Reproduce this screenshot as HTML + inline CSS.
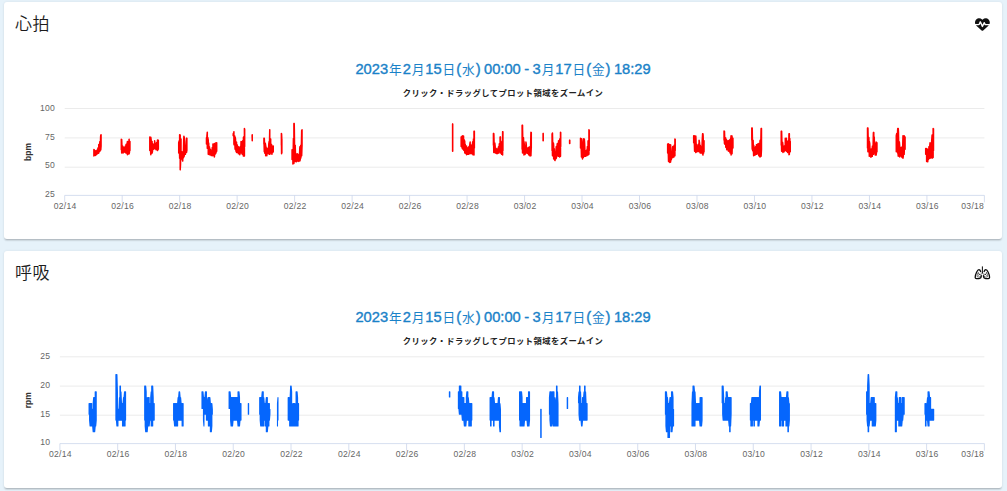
<!DOCTYPE html>
<html lang="ja"><head><meta charset="utf-8"><title>心拍・呼吸</title>
<style>
html,body{margin:0;padding:0}
body{width:1007px;height:491px;overflow:hidden;background:#e6f2fa;position:relative;font-family:"Liberation Sans","Noto Sans CJK JP",sans-serif}
.card{position:absolute;background:#fff;border-radius:3px;box-shadow:0 1.5px 1px -1.2px rgba(0,0,0,.12),0 1.2px 1.3px 0 rgba(0,0,0,.08),0 0.8px 3px 0 rgba(0,0,0,.07)}
.ct{position:absolute;left:11.3px;top:10.7px;font-size:17px;line-height:24px;color:#1c1c1c;font-weight:350;white-space:nowrap;letter-spacing:0.6px}
.ic{position:absolute;left:969.8px;top:12.8px}
.ht i{font-style:normal;font-size:12.7px;-webkit-text-stroke:0;display:inline-block;width:14.6px;text-align:center;letter-spacing:0;position:relative;top:-0.3px}
.ht{position:absolute;left:0;right:0;top:55.6px;text-align:center;font-size:14.7px;letter-spacing:-0.03px;word-spacing:-0.55px;line-height:22px;color:#1a82c8;white-space:nowrap;-webkit-text-stroke:0.38px #1a82c8}
.hs{position:absolute;left:0;right:0;top:83.9px;text-align:center;font-size:8.3px;letter-spacing:0.45px;line-height:14px;font-weight:bold;color:#222;white-space:nowrap}
svg.pl{position:absolute;left:0;top:0}
.al{font-size:8.6px;fill:#666;letter-spacing:0.25px}
.yt{font-size:8.5px;font-weight:bold;fill:#333}
</style></head><body>
<div class="card" style="left:3.7px;top:2.3px;width:998.7px;height:236.7px">
<div class="ct">心拍</div>
<svg class="ic" style="left:971.4px;top:14.9px" viewBox="0 0 512 512" width="14.8" height="14.8"><path d="M228.3 469.1L47.6 300.4c-4.2-3.9-8.2-8.1-11.900-12.400h87c22.600 0 43-13.600 51.700-34.500l10.500-25.200 49.300 109.500c3.800 8.500 12.100 14 21.400 14.100s17.800-5 22-13.300L320 253.700l1.700 3.400c9.500 19 28.900 31 50.100 31H476.300c-3.700 4.300-7.700 8.500-11.900 12.400L283.700 469.100c-7.500 7-17.400 10.900-27.700 10.900s-20.200-3.900-27.700-10.900zM503.700 240h-132c-3 0-5.800-1.700-7.200-4.400l-23.200-46.300c-4.100-8.100-12.400-13.300-21.500-13.300s-17.400 5.100-21.500 13.300l-41.400 82.800L205.900 158.200c-3.900-8.700-12.700-14.300-22.200-14.100s-18.100 5.900-21.800 14.800l-31.800 76.300c-1.200 3-4.200 4.900-7.400 4.900H16c-2.600 0-5 .4-7.300 1.100C3 225.200 0 208.200 0 190.900v-5.800c0-69.900 50.500-129.500 119.400-141 45.600-7.600 92 7.300 124.600 39.900l12 12 12-12c32.600-32.600 79-47.500 124.600-39.900C461.500 55.600 512 115.200 512 185.100v5.800c0 16.900-2.800 33.500-8.300 49.100z" fill="#111"/></svg>
<div class="ht" style="margin-top:0px">2023<i>年</i>2<i>月</i>15<i>日</i>(<i>水</i>) 00:00 - 3<i>月</i>17<i>日</i>(<i>金</i>) 18:29</div>
<div class="hs" style="margin-top:0px">クリック・ドラッグしてプロット領域をズームイン</div>
</div>
<div class="card" style="left:3.7px;top:251.2px;width:998.7px;height:236.9px">
<div class="ct">呼吸</div>

<div class="ht" style="margin-top:-0.7px">2023<i>年</i>2<i>月</i>15<i>日</i>(<i>水</i>) 00:00 - 3<i>月</i>17<i>日</i>(<i>金</i>) 18:29</div>
<div class="hs" style="margin-top:-0.7px">クリック・ドラッグしてプロット領域をズームイン</div>
</div>
<svg class="pl" width="1007" height="491" viewBox="0 0 1007 491" font-family="Liberation Sans, sans-serif">
<line x1="64.7" x2="984.4" y1="108.5" y2="108.5" stroke="#e6e6e6" stroke-width="0.8"/>
<line x1="64.7" x2="984.4" y1="137.9" y2="137.9" stroke="#e6e6e6" stroke-width="0.8"/>
<line x1="64.7" x2="984.4" y1="167.2" y2="167.2" stroke="#e6e6e6" stroke-width="0.8"/>
<path d="M64.7,195.4 H984.4 M64.7,195.4 v7.0 M122.18,195.4 v7.0 M179.66,195.4 v7.0 M237.14,195.4 v7.0 M294.62,195.4 v7.0 M352.11,195.4 v7.0 M409.59,195.4 v7.0 M467.07,195.4 v7.0 M524.55,195.4 v7.0 M582.03,195.4 v7.0 M639.51,195.4 v7.0 M696.99,195.4 v7.0 M754.48,195.4 v7.0 M811.96,195.4 v7.0 M869.44,195.4 v7.0 M926.92,195.4 v7.0 M984.4,195.4 v7.0" stroke="#ccd6eb" stroke-width="0.8" fill="none"/>
<text class="al" x="55" y="110.8" text-anchor="end">100</text>
<text class="al" x="55" y="140" text-anchor="end">75</text>
<text class="al" x="55" y="168.2" text-anchor="end">50</text>
<text class="al" x="55" y="196.9" text-anchor="end">25</text>
<text class="al" x="65.2" y="208.8" text-anchor="middle">02/14</text>
<text class="al" x="122.68" y="208.8" text-anchor="middle">02/16</text>
<text class="al" x="180.16" y="208.8" text-anchor="middle">02/18</text>
<text class="al" x="237.64" y="208.8" text-anchor="middle">02/20</text>
<text class="al" x="295.12" y="208.8" text-anchor="middle">02/22</text>
<text class="al" x="352.61" y="208.8" text-anchor="middle">02/24</text>
<text class="al" x="410.09" y="208.8" text-anchor="middle">02/26</text>
<text class="al" x="467.57" y="208.8" text-anchor="middle">02/28</text>
<text class="al" x="525.05" y="208.8" text-anchor="middle">03/02</text>
<text class="al" x="582.53" y="208.8" text-anchor="middle">03/04</text>
<text class="al" x="640.01" y="208.8" text-anchor="middle">03/06</text>
<text class="al" x="697.49" y="208.8" text-anchor="middle">03/08</text>
<text class="al" x="754.98" y="208.8" text-anchor="middle">03/10</text>
<text class="al" x="812.46" y="208.8" text-anchor="middle">03/12</text>
<text class="al" x="869.94" y="208.8" text-anchor="middle">03/14</text>
<text class="al" x="927.42" y="208.8" text-anchor="middle">03/16</text>
<text class="al" x="984.1" y="208.8" text-anchor="end">03/18</text>
<text class="yt" transform="translate(30.5,151.95) rotate(-90)" text-anchor="middle">bpm</text>
<g fill="none" stroke="#ff0000" stroke-width="1.5" stroke-linejoin="round" stroke-linecap="round">
<path d="M93.89,155.71 L93.89,155.92 L93.89,149.47 L94.34,150.06 L94.79,155.3 L95.24,150.86 L95.59,151.15 L95.59,155.4 L95.68,155.08 L96.13,150.98 L96.58,154.4 L97.03,150.38 L97.29,149.86 L97.29,153.72 L97.48,153.63 L97.93,148.03 L98.38,153.2 L98.76,153.08 L98.76,144.7 L98.82,144.65 L99.27,151.83 L99.72,143.22 L99.9,141.47 L99.9,151.14 L100.17,150.6 L100.62,136.62 L100.77,135.01 L100.77,149.85 L101.07,145.88 L101.07,146.62 L101.07,134.76"/>
<path d="M121.29,148.84 L121.29,149.85 L121.29,139.15 L121.7,153.08 L121.7,139.53 L121.75,141.02 L122.2,152.65 L122.66,146.06 L123,146.63 L123,153.08 L123.11,152.95 L123.57,147.66 L124.02,152.05 L124.48,147.37 L124.5,147.28 L124.5,151.79 L124.93,152.09 L125.39,146.09 L125.84,152.29 L126.01,153.08 L126.01,144.7 L126.3,144.29 L126.75,153.28 L127.21,143.18 L127.4,141.47 L127.4,154.63 L127.67,153.99 L128.12,141.7 L128.58,153.93 L129.03,139.42 L129.13,139.15 L129.13,153.72 L129.49,152.06 L129.94,142.45 L129.94,141.47 L129.94,150.5"/>
<path d="M149.79,149.92 L149.79,150.5 L149.79,136.95 L150.24,137.88 L150.69,153.09 L150.83,154.63 L150.83,137.34 L151.14,139.5 L151.59,153.29 L152.04,142.78 L152.1,141.47 L152.1,153.08 L152.49,151.33 L152.94,144.08 L153.39,149.22 L153.49,149.21 L153.49,145.34 L153.84,144.39 L154.29,148.18 L154.64,148.56 L154.64,140.82 L154.74,141.9 L155.19,148.86 L155.64,143.75 L156.03,143.41 L156.03,149.85 L156.09,149.8 L156.54,142.75 L156.99,149.58 L157.44,140.38 L157.53,139.92 L157.53,150.5 L157.89,149.44 L158.34,140.23 L158.34,140.18 L158.34,149.21"/>
<path d="M178.71,152.39 L178.71,153.08 L178.71,142.76 L179.16,140.87 L179.62,156.84 L179.63,158.24 L179.63,134.76 L180.07,139.47 L180.2,135.01 L180.2,169.86 L180.52,164.34 L180.98,140.96 L181.01,138.89 L181.01,158.24 L181.43,157.72 L181.89,151.91 L181.93,151.8 L181.93,158.89 L182.34,159.66 L182.73,161.08 L182.73,153.09 L182.79,153.37 L183.25,157.94 L183.7,140.33 L183.88,136.31 L183.88,156.95 L184.15,155.14 L184.23,156.31 L184.23,136.95 L184.61,141.54 L185.06,154.33 L185.38,154.37 L185.38,150.51 L185.52,149.56 L185.97,152.46 L186.42,141.06 L186.52,138.24 L186.52,152.43 L186.88,150.15 L186.88,150.5 L186.88,138.24"/>
<path d="M206.47,143.82 L206.47,144.04 L206.47,138.24 L206.92,136.16 L207.3,132.17 L207.3,147.92 L207.36,148.34 L207.81,137.62 L208.24,140.18 L208.24,154.37 L208.25,154.14 L208.7,142.92 L209.14,154.51 L209.41,154.63 L209.41,146.63 L209.59,148.02 L210.03,154.81 L210.48,149.58 L210.92,155.1 L211.18,155.4 L211.18,151.15 L211.37,151.09 L211.81,155.44 L212.26,147.44 L212.7,155.04 L212.94,155.66 L212.94,144.05 L213.15,145.64 L213.59,155.23 L214.04,145.36 L214.35,143.41 L214.35,156.95 L214.48,156.26 L214.93,143.98 L215.37,153.97 L215.81,144.27 L215.88,142.76 L215.88,153.08 L216.26,151.29 L216.7,142.96 L216.7,142.76 L216.7,151.14"/>
<path d="M233.2,135.62 L233.2,135.65 L233.2,133.72 L233.65,132.79 L233.91,131.79 L233.91,144.04 L234.11,144.65 L234.57,135.63 L235.03,148.2 L235.1,149.21 L235.1,136.95 L235.49,138.87 L235.95,151.13 L236.41,142.41 L236.52,142.11 L236.52,152.43 L236.87,152.33 L237.33,144.96 L237.78,152.58 L238.24,147.28 L238.3,146.63 L238.3,153.72 L238.7,153.6 L239.16,148.03 L239.62,154.04 L239.85,154.63 L239.85,147.92 L240.08,146.73 L240.54,152.87 L241,143.1 L241.03,141.47 L241.03,153.08 L241.46,152.48 L241.91,143.07 L242.22,141.47 L242.22,154.37 L242.37,154.03 L242.83,140.48 L243.29,155.58 L243.41,155.92 L243.41,137.6 L243.75,136.68 L244.21,155.76 L244.41,155.92 L244.41,128.56 L244.67,129.39 L244.67,129.21 L244.67,146.62"/>
<path d="M252.14,137.53 L252.14,137.59 L252.14,135.01 L252.24,140.81 L252.24,134.76"/>
<path d="M263.92,143.95 L263.92,144.04 L263.92,138.24 L264.28,151.79 L264.28,138.24 L264.36,139.4 L264.8,153.19 L265.25,143.2 L265.67,145.34 L265.67,155.66 L265.69,155.51 L266.14,147.04 L266.58,155.4 L266.84,155.66 L266.84,149.22 L267.03,149.03 L267.47,153.75 L267.92,148.54 L268,147.92 L268,153.08 L268.36,153.36 L268.8,143.9 L269.17,141.47 L269.17,154.37 L269.25,153.87 L269.69,132.35 L269.75,129.85 L269.75,154.37 L270.14,153.59 L270.58,139.99 L270.68,138.89 L270.68,153.08 L271.03,152.22 L271.47,144.45 L271.85,145.99 L271.85,154.37 L271.92,153.85 L272.36,146.09 L272.8,152.54 L273.25,146.31 L273.25,145.99 L273.25,151.79"/>
<path d="M281.39,145.02 L281.39,145.33 L281.39,133.47 L281.58,153.72 L281.58,133.72 L281.86,140.77 L281.86,138.89 L281.86,153.08"/>
<path d="M292.06,159.38 L292.06,159.53 L292.06,149.86 L292.52,150.26 L292.89,150.51 L292.89,164.05 L292.97,162.5 L293.42,138.48 L293.88,162.85 L293.9,163.41 L293.9,123.4 L294.21,162.12 L294.21,123.4 L294.33,129.08 L294.79,161.68 L295.23,161.47 L295.23,145.34 L295.24,146.75 L295.69,160.38 L296.15,153.68 L296.41,154.38 L296.41,161.86 L296.6,161.21 L297.05,154.33 L297.51,160.86 L297.58,161.08 L297.58,153.73 L297.96,154.55 L298.41,160.88 L298.75,161.47 L298.75,155.67 L298.87,155.35 L299.32,160.39 L299.77,148.49 L299.93,146.63 L299.93,160.82 L300.23,159.57 L300.68,147.13 L300.75,145.34 L300.75,158.24 L301.14,155.4 L301.59,135.23 L301.68,130.5 L301.68,155.66 L302.04,145.27 L302.04,146.62 L302.04,129.85"/>
<path d="M452.6,148.92 L452.6,151.14 L452.6,124.04 L452.7,151.14 L452.7,124.04"/>
<path d="M461.16,145.91 L461.16,146.62 L461.16,136.95 L461.61,136.86 L462.07,147.47 L462.36,148.56 L462.36,135.66 L462.52,136.45 L462.98,149.19 L463.43,136.07 L463.56,136.05 L463.56,149.85 L463.89,150.38 L464.34,140.12 L464.76,141.47 L464.76,153.08 L464.8,152.32 L465.25,144.37 L465.71,153.45 L466.16,146.4 L466.56,145.99 L466.56,154.63 L466.62,153.77 L467.08,147.77 L467.53,154.22 L467.99,147.77 L468.36,147.92 L468.36,154.37 L468.44,154.19 L468.9,146.43 L469.35,153.82 L469.81,144.3 L470.16,142.11 L470.16,153.72 L470.26,152.7 L470.72,144.68 L471.17,153.27 L471.63,146.06 L471.72,145.34 L471.72,153.72 L472.08,153.21 L472.54,142.84 L472.92,141.47 L472.92,154.63 L473,153.74 L473.45,139.03 L473.91,153.18 L473.99,155.02 L473.99,131.14 L474.36,133.15 L474.36,131.14 L474.36,147.92"/>
<path d="M493.42,144.77 L493.42,145.33 L493.42,133.47 L493.78,152.43 L493.78,133.47 L493.88,134.82 L494.33,151.55 L494.78,142.97 L495.18,145.99 L495.18,153.08 L495.23,152.54 L495.69,147.91 L496.14,153.21 L496.59,148.91 L496.93,149.22 L496.93,153.72 L497.04,153.24 L497.5,148.98 L497.95,153.25 L498.4,147.17 L498.69,146.63 L498.69,153.08 L498.85,152.81 L499.31,143.8 L499.76,151.05 L500.08,151.79 L500.08,136.95 L500.21,137.31 L500.44,136.95 L500.44,153.08 L500.66,152.13 L501.12,144.34 L501.57,153.81 L501.61,154.37 L501.61,146.63 L502.02,141.32 L502.48,153.77 L502.62,155.02 L502.62,131.79 L502.93,132.18 L502.93,131.79 L502.93,150.5"/>
<path d="M522.12,149.17 L522.12,149.21 L522.12,125.33 L522.53,153.08 L522.53,125.33 L522.58,130.12 L523.04,152.29 L523.5,137.8 L523.95,153.75 L523.95,155.02 L523.95,141.47 L524.41,145.23 L524.87,153.9 L525.12,154.37 L525.12,149.22 L525.33,148.25 L525.79,153.1 L525.93,153.08 L525.93,142.11 L526.25,144.06 L526.71,152.87 L527.1,153.08 L527.1,147.92 L527.16,148.1 L527.62,153.31 L528.08,147.83 L528.54,154.37 L528.84,155.02 L528.84,147.28 L529,147.36 L529.46,154.71 L529.92,147.2 L530.01,146.63 L530.01,155.92 L530.38,155.13 L530.83,135.79 L530.93,132.17 L530.93,155.66 L531.29,146.51 L531.29,147.92 L531.29,132.43"/>
<path d="M543.08,140.51 L543.08,140.81 L543.08,133.47 L543.22,134.54 L543.22,133.47 L543.22,140.81"/>
<path d="M552.07,149.66 L552.07,150.5 L552.07,133.72 L552.48,155.66 L552.48,133.08 L552.52,135.46 L552.98,156.05 L553.43,143.02 L553.66,145.34 L553.66,158.89 L553.89,158.6 L554.34,148.83 L554.8,160.26 L555.05,160.57 L555.05,151.8 L555.25,152.08 L555.71,159.07 L556.16,147.71 L556.21,146.63 L556.21,158.24 L556.62,156.47 L557.07,145.3 L557.36,143.41 L557.36,155.66 L557.52,155.34 L557.98,143.19 L558.43,155.41 L558.52,156.31 L558.52,140.82 L558.89,142.26 L559.34,156.58 L559.68,156.95 L559.68,138.89 L559.8,139.62 L560.25,155.95 L560.5,156.31 L560.5,132.17 L560.71,133.06 L560.71,132.43 L560.71,146.62"/>
<path d="M569.6,143.15 L569.6,143.4 L569.6,140.18 L569.77,140.44 L569.77,140.18 L569.77,143.4"/>
<path d="M580.51,147.37 L580.51,147.92 L580.51,138.24 L580.97,140.13 L581.43,155.21 L581.44,156.95 L581.44,138.63 L581.89,141.91 L582.35,157.67 L582.48,158.89 L582.48,143.41 L582.81,143.07 L583.26,156.85 L583.41,157.6 L583.41,138.63 L583.72,140.76 L584.18,155.71 L584.33,156.31 L584.33,138.89 L584.64,143.22 L585.1,155.84 L585.49,156.31 L585.49,150.51 L585.56,151.35 L586.02,155.65 L586.48,150.86 L586.88,149.86 L586.88,155.66 L586.94,155.05 L587.4,146.5 L587.86,154.43 L588.04,155.02 L588.04,141.47 L588.32,140.41 L588.77,152.58 L588.93,154.37 L588.93,129.85 L589.23,130.56 L589.23,130.11 L589.23,150.5"/>
<path d="M667.65,152.97 L667.65,153.08 L667.65,144.05 L668.09,144.86 L668.54,161.14 L668.56,161.47 L668.56,143.79 L668.98,144.81 L669.43,162.03 L669.7,162.37 L669.7,144.7 L669.87,146.58 L670.32,160.83 L670.61,162.12 L670.61,144.7 L670.76,148 L671.21,159.7 L671.64,158.24 L671.64,151.8 L671.65,152.48 L672.1,157.44 L672.54,147.94 L672.78,146.63 L672.78,157.6 L672.99,156.51 L673.43,147.96 L673.88,156.74 L673.92,156.95 L673.92,145.99 L674.32,145.14 L674.77,155.21 L674.91,155.66 L674.91,138.89 L675.21,140.03 L675.21,139.15 L675.21,150.5"/>
<path d="M693.67,142.05 L693.67,142.75 L693.67,135.66 L694.12,137.14 L694.57,150.53 L694.61,151.14 L694.61,135.66 L695.02,136.89 L695.47,151.25 L695.79,152.43 L695.79,136.05 L695.92,137.93 L696.37,151.89 L696.82,144.6 L696.96,145.34 L696.96,151.79 L697.27,151.19 L697.72,146.19 L698.14,146.63 L698.14,151.14 L698.17,150.9 L698.62,143.91 L699.07,151.76 L699.08,151.79 L699.08,140.18 L699.52,142.65 L699.97,152.22 L700.26,153.08 L700.26,145.34 L700.42,146.14 L700.88,153.03 L701.33,147.55 L701.44,146.63 L701.44,153.08 L701.78,152.62 L702.23,140.44 L702.61,133.72 L702.61,154.37 L702.68,154.27 L702.97,155.02 L702.97,133.72 L703.13,135.6 L703.58,153.11 L704.03,142.19 L704.03,140.82 L704.03,151.79"/>
<path d="M724.04,139.92 L724.04,140.17 L724.04,130.88 L724.45,143.4 L724.45,131.14 L724.48,131.59 L724.93,144.36 L725.37,137.64 L725.75,138.24 L725.75,147.27 L725.82,146.68 L726.26,139.49 L726.71,149.26 L726.91,149.85 L726.91,140.18 L727.15,141.72 L727.6,149.87 L728.05,141.8 L728.42,140.82 L728.42,151.14 L728.49,151.11 L728.94,140.48 L729.38,151.14 L729.83,140.49 L729.93,139.53 L729.93,152.43 L730.27,153.09 L730.72,139.49 L731.09,135.66 L731.09,155.02 L731.16,153.69 L731.61,138.24 L732.02,136.05 L732.02,153.72 L732.05,153.34 L732.5,139.04 L732.95,147.85 L732.95,147.92 L732.95,138.24"/>
<path d="M751.79,139.11 L751.79,140.17 L751.79,127.91 L752.2,149.21 L752.2,127.91 L752.23,129.79 L752.67,150.72 L753.11,140.25 L753.55,154.27 L753.64,155.66 L753.64,145.34 L753.99,146.41 L754.43,155.18 L754.88,148.25 L755.04,147.92 L755.04,155.02 L755.32,154.71 L755.76,146.43 L756.2,154.34 L756.44,154.37 L756.44,144.7 L756.64,144.67 L757.08,153.83 L757.52,144.59 L757.62,144.05 L757.62,153.72 L757.96,153.97 L758.4,145 L758.79,143.41 L758.79,155.66 L758.84,155.36 L759.28,143.68 L759.72,156.43 L759.96,156.95 L759.96,141.47 L760.16,140.18 L760.6,156.55 L761.04,130.52 L761.12,128.56 L761.12,156.31 L761.48,149.17 L761.48,149.21 L761.48,128.56"/>
<path d="M781.23,144.29 L781.23,145.33 L781.23,131.14 L781.64,151.14 L781.64,131.14 L781.68,133.33 L782.13,151.34 L782.58,142.24 L782.94,145.34 L782.94,152.43 L783.03,151.74 L783.49,146.65 L783.94,151.53 L784.1,151.79 L784.1,147.92 L784.39,145.96 L784.84,150.51 L785.27,150.5 L785.27,138.24 L785.29,139.88 L785.75,150.27 L786.2,139.28 L786.43,138.24 L786.43,151.14 L786.65,150.53 L787.1,141.96 L787.55,152.01 L787.59,152.43 L787.59,141.47 L788.01,141.02 L788.46,152.59 L788.91,136.2 L788.98,133.72 L788.98,154.63 L789.34,133.72 L789.34,154.37 L789.36,153.48 L789.81,138.54 L790.26,151.73 L790.26,151.79 L790.26,141.47"/>
<path d="M867.51,147.66 L867.51,147.92 L867.51,127.91 L867.92,151.79 L867.92,127.91 L867.96,128.54 L868.41,151.79 L868.86,137.53 L869.31,155.92 L869.35,156.31 L869.35,141.47 L869.76,143.71 L870.21,155.89 L870.65,149.37 L870.87,149.22 L870.87,157.21 L871.1,156.52 L871.55,148.95 L872,156.28 L872.27,156.31 L872.27,147.92 L872.45,146.02 L872.9,154.54 L873.35,134.09 L873.43,132.43 L873.43,154.37 L873.79,132.43 L873.79,153.08 L873.8,152.17 L874.24,136.94 L874.69,152.95 L875.14,145.43 L875.19,144.05 L875.19,155.02 L875.59,154.37 L876.04,142.78 L876.12,142.11 L876.12,155.02 L876.49,152.48 L876.94,143.21 L876.94,142.76 L876.94,151.79"/>
<path d="M896.27,151.21 L896.27,151.79 L896.27,135.66 L896.71,133.56 L897.15,151.75 L897.59,131.13 L897.75,128.56 L897.75,153.08 L898.03,153.52 L898.26,156.31 L898.26,128.56 L898.47,131.91 L898.91,155.57 L899.35,141.84 L899.75,146.63 L899.75,156.95 L899.79,156.63 L900.23,147.31 L900.68,155.59 L900.91,155.66 L900.91,147.92 L901.12,147.75 L901.56,156.72 L902,147.23 L902.07,146.63 L902.07,157.6 L902.44,157.49 L902.88,139.01 L902.99,135.66 L902.99,158.24 L903.32,156.02 L903.76,138.06 L904.15,135.66 L904.15,154.37 L904.2,152.9 L904.64,138.09 L905.08,148.13 L905.08,149.21 L905.08,136.95"/>
<path d="M925.7,154.14 L925.7,154.37 L925.7,148.57 L926.16,149.06 L926.62,148.57 L926.62,161.47 L926.62,160.2 L927.08,149.13 L927.54,160.86 L927.76,161.86 L927.76,149.22 L927.99,149.98 L928.45,159.63 L928.91,158.24 L928.91,146.63 L928.91,148.18 L929.37,157.07 L929.82,145 L930.05,142.76 L930.05,158.24 L930.28,157 L930.74,145.06 L931.19,143.41 L931.19,157.6 L931.2,157.4 L931.66,140.75 L932.11,135.01 L932.11,158.24 L932.11,157.07 L932.57,135.56 L933.03,155.38 L933.13,157.6 L933.13,128.56 L933.49,131.68 L933.49,128.82 L933.49,150.5"/>
</g>
<line x1="59.9" x2="984.4" y1="356.8" y2="356.8" stroke="#e6e6e6" stroke-width="0.8"/>
<line x1="59.9" x2="984.4" y1="386.1" y2="386.1" stroke="#e6e6e6" stroke-width="0.8"/>
<line x1="59.9" x2="984.4" y1="415.2" y2="415.2" stroke="#e6e6e6" stroke-width="0.8"/>
<path d="M59.9,443.6 H984.4 M59.9,443.6 v7.0 M117.68,443.6 v7.0 M175.46,443.6 v7.0 M233.24,443.6 v7.0 M291.02,443.6 v7.0 M348.81,443.6 v7.0 M406.59,443.6 v7.0 M464.37,443.6 v7.0 M522.15,443.6 v7.0 M579.93,443.6 v7.0 M637.71,443.6 v7.0 M695.49,443.6 v7.0 M753.27,443.6 v7.0 M811.06,443.6 v7.0 M868.84,443.6 v7.0 M926.62,443.6 v7.0 M984.4,443.6 v7.0" stroke="#ccd6eb" stroke-width="0.8" fill="none"/>
<text class="al" x="50.2" y="358.9" text-anchor="end">25</text>
<text class="al" x="50.2" y="388.2" text-anchor="end">20</text>
<text class="al" x="50.2" y="416.8" text-anchor="end">15</text>
<text class="al" x="50.2" y="445.3" text-anchor="end">10</text>
<text class="al" x="60.4" y="456.9" text-anchor="middle">02/14</text>
<text class="al" x="118.18" y="456.9" text-anchor="middle">02/16</text>
<text class="al" x="175.96" y="456.9" text-anchor="middle">02/18</text>
<text class="al" x="233.74" y="456.9" text-anchor="middle">02/20</text>
<text class="al" x="291.52" y="456.9" text-anchor="middle">02/22</text>
<text class="al" x="349.31" y="456.9" text-anchor="middle">02/24</text>
<text class="al" x="407.09" y="456.9" text-anchor="middle">02/26</text>
<text class="al" x="464.87" y="456.9" text-anchor="middle">02/28</text>
<text class="al" x="522.65" y="456.9" text-anchor="middle">03/02</text>
<text class="al" x="580.43" y="456.9" text-anchor="middle">03/04</text>
<text class="al" x="638.21" y="456.9" text-anchor="middle">03/06</text>
<text class="al" x="695.99" y="456.9" text-anchor="middle">03/08</text>
<text class="al" x="753.77" y="456.9" text-anchor="middle">03/10</text>
<text class="al" x="811.56" y="456.9" text-anchor="middle">03/12</text>
<text class="al" x="869.34" y="456.9" text-anchor="middle">03/14</text>
<text class="al" x="927.12" y="456.9" text-anchor="middle">03/16</text>
<text class="al" x="984.1" y="456.9" text-anchor="end">03/18</text>
<text class="yt" transform="translate(30.5,400.19) rotate(-90)" text-anchor="middle">rpm</text>
<g fill="none" stroke="#0566fd" stroke-width="1.1" stroke-linejoin="round" stroke-linecap="round">
<path d="M89.07,414.31 L89.07,403.44 L89.58,403.44 L89.58,420.1 L90.09,425.88 L90.09,403.44 L90.6,403.44 L90.6,425.88 L91.12,425.88 L91.12,403.44 L91.63,403.44 L91.63,425.88 L92.14,425.88 L92.14,409.22 L92.65,409.22 L92.65,425.88 L93.16,431.67 L93.16,403.44 L93.67,397.65 L93.67,431.67 L94.19,431.67 L94.19,397.65 L94.7,397.65 L94.7,431.67 L95.21,425.88 L95.21,391.87 L95.72,391.87 L95.72,425.88 L96.23,420.1 L96.23,391.87"/>
<path d="M115.9,420.1 L115.9,374.51 L116.41,374.51 L116.41,420.1 L116.92,425.88 L116.92,374.51 L117.43,391.87 L117.43,425.88 L117.94,425.88 L117.94,409.22 L118.45,409.22 L118.45,420.1 L118.95,420.1 L118.95,409.22 L119.46,397.65 L119.46,420.1 L119.97,420.1 L119.97,386.08 L120.48,386.08 L120.48,420.1 L120.99,420.1 L120.99,391.87 L121.5,403.44 L121.5,420.1 L122.01,420.1 L122.01,403.44 L122.52,403.44 L122.52,425.88 L123.02,425.88 L123.02,403.44 L123.53,397.65 L123.53,425.88 L124.04,425.88 L124.04,397.65 L124.55,391.87 L124.55,425.88 L125.06,425.88 L125.06,391.87 L125.57,391.87 L125.57,420.1"/>
<path d="M144.68,420.1 L144.68,386.08 L145.18,386.08 L145.18,425.88 L145.68,431.67 L145.68,386.08 L146.18,391.87 L146.18,431.67 L146.69,431.67 L146.69,397.65 L147.19,403.44 L147.19,431.67 L147.69,425.88 L147.69,397.65 L148.19,397.65 L148.19,425.88 L148.69,425.88 L148.69,397.65 L149.19,397.65 L149.19,425.88 L149.69,420.1 L149.69,403.44 L150.2,403.44 L150.2,420.1 L150.7,420.1 L150.7,397.65 L151.2,391.87 L151.2,425.88 L151.7,425.88 L151.7,386.08 L152.2,386.08 L152.2,425.88 L152.7,425.88 L152.7,386.08 L153.2,397.65 L153.2,420.1 L153.71,420.1 L153.71,403.44 L154.21,403.44 L154.21,420.1"/>
<path d="M173.6,420.1 L173.6,403.44 L174.1,403.44 L174.1,420.1 L174.6,425.88 L174.6,403.44 L175.1,403.44 L175.1,425.88 L175.6,425.88 L175.6,403.44 L176.11,403.44 L176.11,425.88 L176.61,425.88 L176.61,403.44 L177.11,403.44 L177.11,425.88 L177.61,425.88 L177.61,403.44 L178.11,397.65 L178.11,420.1 L178.61,420.1 L178.61,397.65 L179.11,391.87 L179.11,420.1 L179.62,420.1 L179.62,391.87 L180.12,397.65 L180.12,420.1 L180.62,420.1 L180.62,397.65 L181.12,403.44 L181.12,420.1 L181.62,420.1 L181.62,403.44 L182.12,403.44 L182.12,425.88 L182.62,425.88 L182.62,403.44 L183.12,403.44 L183.12,425.88"/>
<path d="M201.99,408.52 L201.99,391.87 L202.48,391.87 L202.48,408.52 L202.98,408.52 L202.98,391.87 L203.47,397.65 L203.47,420.1 L203.96,425.88 L203.96,397.65 L204.46,397.65 L204.46,414.31 L204.95,414.31 L204.95,397.65 L205.44,391.87 L205.44,414.31 L205.94,414.31 L205.94,391.87 L206.43,391.87 L206.43,420.1 L206.92,420.1 L206.92,397.65 L207.42,403.44 L207.42,420.1 L207.91,420.1 L207.91,403.44 L208.4,397.65 L208.4,425.88 L208.9,425.88 L208.9,397.65 L209.39,397.65 L209.39,425.88 L209.88,425.88 L209.88,397.65 L210.38,403.44 L210.38,431.67 L210.87,431.67 L210.87,403.44 L211.36,403.44 L211.36,431.67 L211.86,425.88 L211.86,403.44 L212.35,409.22 L212.35,414.31"/>
<path d="M229.1,408.52 L229.1,391.87 L229.59,391.87 L229.59,408.52 L230.09,408.52 L230.09,391.87 L230.59,397.65 L230.59,420.1 L231.08,425.88 L231.08,397.65 L231.58,397.65 L231.58,425.88 L232.07,425.88 L232.07,397.65 L232.57,397.65 L232.57,425.88 L233.06,420.1 L233.06,397.65 L233.56,397.65 L233.56,420.1 L234.05,420.1 L234.05,397.65 L234.55,397.65 L234.55,420.1 L235.04,420.1 L235.04,397.65 L235.54,397.65 L235.54,420.1 L236.04,420.1 L236.04,397.65 L236.53,397.65 L236.53,420.1 L237.03,420.1 L237.03,397.65 L237.52,397.65 L237.52,420.1 L238.02,425.88 L238.02,391.87 L238.51,391.87 L238.51,425.88 L239.01,425.88 L239.01,391.87 L239.5,397.65 L239.5,425.88 L240,420.1 L240,403.44 L240.49,403.44 L240.49,420.1 L240.99,420.1 L240.99,403.44"/>
<path d="M248.31,414.31 L248.31,403.44 L248.61,403.44 L248.61,414.31"/>
<path d="M259.69,414.31 L259.69,397.65 L260.2,397.65 L260.2,420.1 L260.71,425.88 L260.71,397.65 L261.22,397.65 L261.22,425.88 L261.73,425.88 L261.73,397.65 L262.24,391.87 L262.24,425.88 L262.75,425.88 L262.75,391.87 L263.26,391.87 L263.26,425.88 L263.77,425.88 L263.77,397.65 L264.29,403.44 L264.29,420.1 L264.8,420.1 L264.8,403.44 L265.31,403.44 L265.31,425.88 L265.82,425.88 L265.82,403.44 L266.33,397.65 L266.33,431.67 L266.84,431.67 L266.84,397.65 L267.35,397.65 L267.35,431.67 L267.86,425.88 L267.86,403.44 L268.37,403.44 L268.37,425.88 L268.89,425.88 L268.89,403.44 L269.4,403.44 L269.4,420.1 L269.91,414.31 L269.91,409.22"/>
<path d="M277.48,425.88 L277.48,403.44 L277.98,397.65 L277.98,420.1"/>
<path d="M288.19,420.1 L288.19,397.65 L288.68,397.65 L288.68,420.1 L289.17,420.1 L289.17,397.65 L289.67,403.44 L289.67,425.88 L290.16,425.88 L290.16,397.65 L290.65,386.08 L290.65,425.88 L291.15,425.88 L291.15,386.08 L291.64,391.87 L291.64,425.88 L292.13,425.88 L292.13,403.44 L292.63,409.22 L292.63,425.88 L293.12,425.88 L293.12,403.44 L293.61,403.44 L293.61,425.88 L294.11,425.88 L294.11,403.44 L294.6,403.44 L294.6,425.88 L295.09,425.88 L295.09,409.22 L295.59,403.44 L295.59,425.88 L296.08,425.88 L296.08,391.87 L296.57,391.87 L296.57,425.88 L297.07,425.88 L297.07,391.87 L297.56,397.65 L297.56,425.88 L298.05,425.88 L298.05,403.44 L298.55,403.44 L298.55,420.1"/>
<path d="M449.39,396.95 L449.39,391.87 L449.81,391.87 L449.81,396.95"/>
<path d="M458.39,408.52 L458.39,391.87 L458.89,391.87 L458.89,408.52 L459.38,414.31 L459.38,386.08 L459.88,386.08 L459.88,414.31 L460.38,414.31 L460.38,386.08 L460.87,386.08 L460.87,414.31 L461.37,414.31 L461.37,391.87 L461.87,391.87 L461.87,414.31 L462.37,420.1 L462.37,397.65 L462.86,397.65 L462.86,420.1 L463.36,420.1 L463.36,397.65 L463.86,397.65 L463.86,420.1 L464.35,425.88 L464.35,403.44 L464.85,403.44 L464.85,425.88 L465.35,425.88 L465.35,403.44 L465.84,403.44 L465.84,425.88 L466.34,420.1 L466.34,397.65 L466.84,391.87 L466.84,420.1 L467.34,420.1 L467.34,391.87 L467.83,391.87 L467.83,420.1 L468.33,420.1 L468.33,397.65 L468.83,403.44 L468.83,425.88 L469.32,425.88 L469.32,403.44 L469.82,403.44 L469.82,425.88 L470.32,425.88 L470.32,403.44 L470.82,403.44 L470.82,425.88 L471.31,425.88 L471.31,403.44 L471.81,403.44 L471.81,420.1"/>
<path d="M490.09,420.1 L490.09,397.65 L490.58,397.65 L490.58,425.88 L491.07,425.88 L491.07,397.65 L491.57,397.65 L491.57,420.1 L492.06,420.1 L492.06,397.65 L492.55,391.87 L492.55,420.1 L493.05,420.1 L493.05,391.87 L493.54,391.87 L493.54,425.88 L494.03,425.88 L494.03,397.65 L494.53,403.44 L494.53,420.1 L495.02,420.1 L495.02,403.44 L495.51,403.44 L495.51,420.1 L496.01,420.1 L496.01,403.44 L496.5,403.44 L496.5,420.1 L496.99,420.1 L496.99,403.44 L497.49,403.44 L497.49,420.1 L497.98,420.1 L497.98,403.44 L498.48,397.65 L498.48,420.1 L498.97,420.1 L498.97,397.65 L499.46,397.65 L499.46,425.88 L499.96,431.67 L499.96,403.44 L500.45,409.22 L500.45,431.67"/>
<path d="M519.56,420.1 L519.56,391.87 L520.06,391.87 L520.06,425.88 L520.56,425.88 L520.56,391.87 L521.05,391.87 L521.05,425.88 L521.55,425.88 L521.55,391.87 L522.05,397.65 L522.05,425.88 L522.54,425.88 L522.54,403.44 L523.04,403.44 L523.04,425.88 L523.54,425.88 L523.54,403.44 L524.04,403.44 L524.04,425.88 L524.53,420.1 L524.53,403.44 L525.03,403.44 L525.03,420.1 L525.53,420.1 L525.53,403.44 L526.02,403.44 L526.02,420.1 L526.52,420.1 L526.52,397.65 L527.02,397.65 L527.02,420.1 L527.52,425.88 L527.52,397.65 L528.01,397.65 L528.01,425.88 L528.51,425.88 L528.51,391.87 L529.01,391.87 L529.01,425.88 L529.51,420.1 L529.51,391.87"/>
<path d="M540.73,437.45 L540.73,409.22 L541.15,409.22 L541.15,437.45"/>
<path d="M549.45,414.31 L549.45,397.65 L549.96,391.87 L549.96,420.1 L550.46,425.88 L550.46,391.87 L550.96,391.87 L550.96,425.88 L551.46,425.88 L551.46,391.87 L551.97,397.65 L551.97,425.88 L552.47,420.1 L552.47,391.87 L552.97,391.87 L552.97,420.1 L553.48,425.88 L553.48,391.87 L553.98,391.87 L553.98,425.88 L554.48,425.88 L554.48,397.65 L554.99,403.44 L554.99,425.88 L555.49,425.88 L555.49,403.44 L555.99,397.65 L555.99,425.88 L556.5,425.88 L556.5,386.08 L557,386.08 L557,425.88 L557.5,425.88 L557.5,391.87 L558.01,403.44 L558.01,425.88"/>
<path d="M567.24,408.52 L567.24,397.65 L567.61,397.65 L567.61,408.52"/>
<path d="M578.52,402.74 L578.52,397.65 L579.03,391.87 L579.03,414.31 L579.53,420.1 L579.53,386.08 L580.03,386.08 L580.03,420.1 L580.54,420.1 L580.54,391.87 L581.04,403.44 L581.04,420.1 L581.54,425.88 L581.54,403.44 L582.05,403.44 L582.05,425.88 L582.55,420.1 L582.55,397.65 L583.05,397.65 L583.05,420.1 L583.56,420.1 L583.56,397.65 L584.06,391.87 L584.06,420.1 L584.56,420.1 L584.56,386.08 L585.06,386.08 L585.06,420.1 L585.57,420.1 L585.57,391.87 L586.07,403.44 L586.07,420.1 L586.57,420.1 L586.57,403.44 L587.08,403.44 L587.08,420.1"/>
<path d="M665.42,414.31 L665.42,391.87 L665.92,391.87 L665.92,425.88 L666.43,431.67 L666.43,391.87 L666.94,397.65 L666.94,431.67 L667.45,431.67 L667.45,397.65 L667.96,403.44 L667.96,437.45 L668.47,437.45 L668.47,403.44 L668.98,403.44 L668.98,437.45 L669.48,437.45 L669.48,403.44 L669.99,397.65 L669.99,425.88 L670.5,425.88 L670.5,397.65 L671.01,397.65 L671.01,431.67 L671.52,431.67 L671.52,391.87 L672.03,391.87 L672.03,431.67 L672.53,425.88 L672.53,391.87 L673.04,397.65 L673.04,425.88 L673.55,425.88 L673.55,409.22"/>
<path d="M691.99,425.88 L691.99,403.44 L692.49,391.87 L692.49,425.88 L693,425.88 L693,386.08 L693.5,386.08 L693.5,425.88 L694.01,425.88 L694.01,386.08 L694.51,391.87 L694.51,425.88 L695.01,425.88 L695.01,391.87 L695.52,403.44 L695.52,420.1 L696.02,420.1 L696.02,403.44 L696.53,403.44 L696.53,420.1 L697.03,420.1 L697.03,403.44 L697.53,403.44 L697.53,420.1 L698.04,420.1 L698.04,403.44 L698.54,403.44 L698.54,420.1 L699.05,420.1 L699.05,403.44 L699.55,403.44 L699.55,420.1 L700.06,425.88 L700.06,397.65 L700.56,397.65 L700.56,425.88 L701.06,425.88 L701.06,397.65 L701.57,397.65 L701.57,425.88 L702.07,420.1 L702.07,397.65"/>
<path d="M722.16,402.74 L722.16,386.08 L722.66,386.08 L722.66,414.31 L723.15,420.1 L723.15,386.08 L723.65,397.65 L723.65,420.1 L724.15,420.1 L724.15,403.44 L724.65,403.44 L724.65,420.1 L725.15,420.1 L725.15,403.44 L725.65,397.65 L725.65,420.1 L726.15,420.1 L726.15,391.87 L726.64,391.87 L726.64,420.1 L727.14,420.1 L727.14,391.87 L727.64,397.65 L727.64,420.1 L728.14,420.1 L728.14,397.65 L728.64,397.65 L728.64,420.1 L729.14,425.88 L729.14,397.65 L729.63,397.65 L729.63,431.67 L730.13,431.67 L730.13,397.65 L730.63,397.65 L730.63,425.88 L731.13,414.31 L731.13,397.65"/>
<path d="M750.38,420.1 L750.38,403.44 L750.88,403.44 L750.88,425.88 L751.39,425.88 L751.39,403.44 L751.89,397.65 L751.89,425.88 L752.4,425.88 L752.4,397.65 L752.9,397.65 L752.9,420.1 L753.41,420.1 L753.41,397.65 L753.91,397.65 L753.91,425.88 L754.41,425.88 L754.41,397.65 L754.92,397.65 L754.92,420.1 L755.42,420.1 L755.42,397.65 L755.93,397.65 L755.93,420.1 L756.43,420.1 L756.43,397.65 L756.93,397.65 L756.93,420.1 L757.44,420.1 L757.44,397.65 L757.94,397.65 L757.94,425.88 L758.45,425.88 L758.45,397.65 L758.95,397.65 L758.95,425.88 L759.46,420.1 L759.46,391.87 L759.96,386.08 L759.96,420.1 L760.46,420.1 L760.46,386.08"/>
<path d="M779.58,425.88 L779.58,391.87 L780.07,391.87 L780.07,425.88 L780.56,425.88 L780.56,391.87 L781.05,397.65 L781.05,420.1 L781.54,420.1 L781.54,397.65 L782.03,397.65 L782.03,425.88 L782.52,425.88 L782.52,397.65 L783.01,397.65 L783.01,425.88 L783.5,425.88 L783.5,397.65 L783.99,397.65 L783.99,420.1 L784.48,420.1 L784.48,397.65 L784.97,397.65 L784.97,420.1 L785.46,420.1 L785.46,397.65 L785.95,397.65 L785.95,425.88 L786.44,425.88 L786.44,397.65 L786.93,391.87 L786.93,425.88 L787.42,425.88 L787.42,391.87 L787.91,391.87 L787.91,431.67 L788.4,431.67 L788.4,397.65 L788.89,403.44 L788.89,425.88 L789.38,420.1 L789.38,403.44"/>
<path d="M866.59,414.31 L866.59,391.87 L867.1,391.87 L867.1,420.1 L867.61,425.88 L867.61,386.08 L868.13,374.51 L868.13,431.67 L868.64,431.67 L868.64,374.51 L869.16,386.08 L869.16,425.88 L869.67,420.1 L869.67,403.44 L870.18,403.44 L870.18,420.1 L870.7,420.1 L870.7,403.44 L871.21,397.65 L871.21,420.1 L871.73,420.1 L871.73,397.65 L872.24,397.65 L872.24,425.88 L872.75,425.88 L872.75,397.65 L873.27,397.65 L873.27,425.88 L873.78,425.88 L873.78,397.65 L874.29,397.65 L874.29,425.88 L874.81,425.88 L874.81,403.44 L875.32,403.44 L875.32,425.88 L875.84,420.1 L875.84,403.44"/>
<path d="M895.37,431.67 L895.37,397.65 L895.86,391.87 L895.86,431.67 L896.35,431.67 L896.35,391.87 L896.84,391.87 L896.84,420.1 L897.33,420.1 L897.33,397.65 L897.82,403.44 L897.82,420.1 L898.31,420.1 L898.31,403.44 L898.8,403.44 L898.8,425.88 L899.29,425.88 L899.29,397.65 L899.78,397.65 L899.78,425.88 L900.27,425.88 L900.27,397.65 L900.76,397.65 L900.76,425.88 L901.25,425.88 L901.25,403.44 L901.74,403.44 L901.74,425.88 L902.23,420.1 L902.23,397.65 L902.73,397.65 L902.73,420.1 L903.22,414.31 L903.22,397.65 L903.71,397.65 L903.71,414.31 L904.2,414.31 L904.2,397.65"/>
<path d="M924.98,414.31 L924.98,403.44 L925.49,403.44 L925.49,425.88 L926,425.88 L926,403.44 L926.51,409.22 L926.51,420.1 L927.02,420.1 L927.02,403.44 L927.54,397.65 L927.54,420.1 L928.05,425.88 L928.05,391.87 L928.56,391.87 L928.56,425.88 L929.07,425.88 L929.07,391.87 L929.58,397.65 L929.58,420.1 L930.09,420.1 L930.09,397.65 L930.6,397.65 L930.6,420.1 L931.11,420.1 L931.11,409.22 L931.63,409.22 L931.63,420.1 L932.14,420.1 L932.14,409.22 L932.65,409.22 L932.65,420.1 L933.16,420.1 L933.16,409.22 L933.67,409.22 L933.67,420.1"/>
</g>
<g transform="translate(972,264) scale(0.034602)" fill="none" stroke="#0a0a0a" stroke-linecap="round" stroke-linejoin="round">
<path stroke-width="29" d="M300,82V250"/>
<g stroke-width="37">
<path d="M250,218 C240,185 225,160 200,160 C160,160 95,290 92,385 C91,410 105,420 130,420 H205 C250,420 270,395 270,335"/>
<path d="M 350.0,218 C 360.0,185 375.0,160 400.0,160 C 440.0,160 505.0,290 508.0,385 C 509.0,410 495.0,420 470.0,420 H 395.0 C 350.0,420 330.0,395 330.0,335"/>
</g>
<g stroke-width="17">
<path d="M300,250 C298,275 280,292 255,298 L215,300 M215,300 L183,272 M215,300 L183,328"/>
<path d="M 300.0,250 C 302.0,275 320.0,292 345.0,298 L 385.0,300 M 385.0,300 L 417.0,272 M 385.0,300 L 417.0,328"/>
<path d="M185,238 C160,275 145,320 148,350 C150,370 160,376 180,376 H215 C235,376 245,360 248,345"/>
<path d="M 415.0,238 C 440.0,275 455.0,320 452.0,350 C 450.0,370 440.0,376 420.0,376 H 385.0 C 365.0,376 355.0,360 352.0,345"/>
</g>
</g>
</svg>
</body></html>
